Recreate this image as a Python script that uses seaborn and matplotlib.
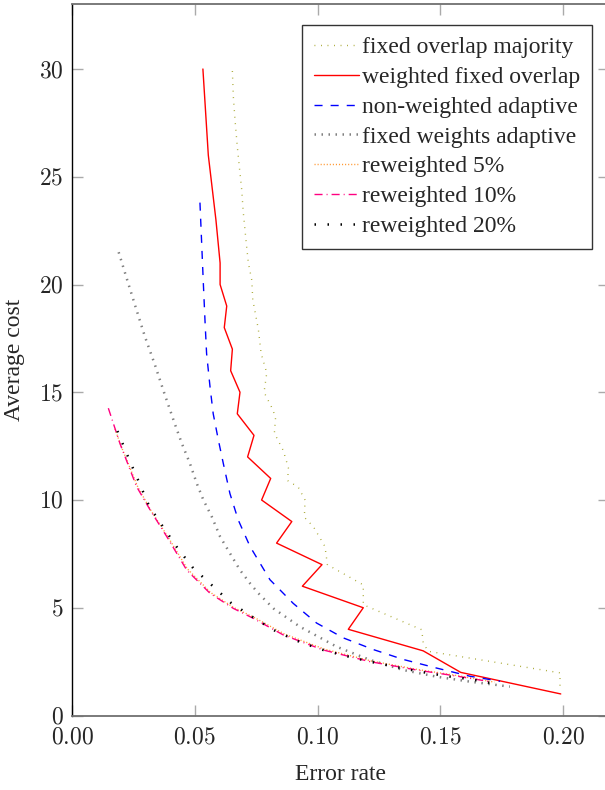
import matplotlib
matplotlib.use("Agg")
import matplotlib.pyplot as plt
import seaborn as sns
import pandas as pd

# ---------------- data ----------------
fixed_overlap_x = [0.0653, 0.0657, 0.0664, 0.0673, 0.0681, 0.0691, 0.0697, 0.0708, 0.0718, 0.0732,
                   0.0736, 0.0759, 0.0770, 0.0793, 0.0782, 0.0813, 0.0829, 0.0824, 0.0860, 0.0881,
                   0.0878, 0.0921, 0.0949, 0.0946, 0.0983, 0.1030, 0.1040, 0.1186, 0.1186, 0.1424,
                   0.1430, 0.1450, 0.1987, 0.1987]
fixed_overlap_y = [29.9, 28.7, 27.6, 26.4, 25.5, 24.4, 23.4, 22.1, 21.0, 20.2,
                   19.3, 17.9, 16.8, 15.9, 15.0, 14.3, 13.85, 13.1, 12.3, 11.5,
                   10.9, 10.6, 10.0, 9.2, 8.76, 7.84, 7.0, 6.06, 5.14, 3.98,
                   3.37, 2.98, 1.98, 1.36]

weighted_x = [0.0533, 0.0555, 0.0586, 0.0603, 0.0603, 0.0630, 0.0620, 0.0653, 0.0646, 0.0684,
              0.0673, 0.0741, 0.0715, 0.0809, 0.0772, 0.0895, 0.0833, 0.1018, 0.0938, 0.1186,
              0.1125, 0.1430, 0.1583, 0.1990]
weighted_y = [30, 26, 23, 21, 20, 19, 18, 17, 16, 15, 14, 13, 12, 11, 10, 9, 8, 7, 6, 5, 4, 3, 2, 1]

nonweighted_x = [0.0521, 0.0535, 0.0542, 0.0548, 0.0562, 0.0575, 0.0596, 0.0616, 0.0643, 0.0677,
                 0.0725, 0.0806, 0.0901, 0.0996, 0.1105, 0.1227, 0.1349, 0.1485, 0.1621, 0.1743]
nonweighted_y = [23.8, 20.0, 18.2, 16.8, 15.25, 14.0, 12.78, 11.7, 10.3, 9.07,
                 7.84, 6.3, 5.2, 4.29, 3.6, 3.06, 2.6, 2.2, 1.82, 1.59]

fixedw_x = [0.0190, 0.0225, 0.0261, 0.0297, 0.0338, 0.0376, 0.0415, 0.0447, 0.0480, 0.0508,
            0.0535, 0.0569, 0.0603, 0.0643, 0.0684, 0.0725, 0.0759, 0.0820, 0.0928, 0.1078,
            0.1213, 0.1349, 0.1485, 0.1621, 0.1783]
fixedw_y = [21.5, 20.2, 18.88, 17.58, 16.26, 14.95, 13.65, 12.63, 11.7, 10.77,
            10.0, 9.23, 8.3, 7.53, 6.75, 6.13, 5.67, 4.97, 4.12, 3.19,
            2.58, 2.11, 1.80, 1.57, 1.34]

rw5_x = [0.0175, 0.0200, 0.0268, 0.0322, 0.0390, 0.0470, 0.0565, 0.0660, 0.0742, 0.0865,
         0.1028, 0.1218, 0.1410, 0.1570, 0.1720]
rw5_y = [13.3, 12.5, 10.6, 9.5, 8.3, 6.8, 5.7, 5.0, 4.55, 3.78,
         3.08, 2.53, 2.13, 1.85, 1.55]

rw10_x = [0.0148, 0.0195, 0.0263, 0.0318, 0.0386, 0.0467, 0.0562, 0.0657, 0.0738, 0.0860,
          0.1023, 0.1213, 0.1404, 0.1566, 0.1702]
rw10_y = [14.26, 12.63, 10.62, 9.54, 8.3, 6.75, 5.67, 4.97, 4.51, 3.74,
          3.04, 2.50, 2.11, 1.83, 1.57]

rw20_x = [0.0185, 0.0232, 0.0273, 0.0314, 0.0372, 0.0430, 0.0494, 0.0570, 0.0647, 0.0734,
          0.0820, 0.0915, 0.1013, 0.1116, 0.1213, 0.1315, 0.1420, 0.1522, 0.1625, 0.1726]
rw20_y = [13.2, 11.9, 10.82, 9.72, 8.73, 7.76, 6.83, 6.04, 5.23, 4.58,
          3.97, 3.47, 3.07, 2.76, 2.50, 2.26, 2.03, 1.83, 1.68, 1.46]

x_ticks = [0.00, 0.05, 0.10, 0.15, 0.20]
x_tick_labels = ["0.00", "0.05", "0.10", "0.15", "0.20"]
y_ticks = [0, 5, 10, 15, 20, 25, 30]
y_tick_labels = ["0", "5", "10", "15", "20", "25", "30"]

# ---------------- style ----------------
sns.set_theme(style="white")
plt.rcParams["font.family"] = ["Liberation Serif", "DejaVu Serif"]
plt.rcParams["mathtext.fontset"] = "cm"
FS = 17

fig = plt.figure(figsize=(6.05, 7.90), dpi=100)
ax = fig.add_axes([72 / 605, (790 - 715.5) / 790, (609 - 72) / 605, (715.5 - 4) / 790])

series = [
    ("fixed overlap majority", fixed_overlap_x, fixed_overlap_y, dict(color="#a0a020", lw=1.0, ls=(0, (0.6, 4.1)))),
    ("weighted fixed overlap", weighted_x, weighted_y, dict(color="red", lw=1.0, ls="-")),
    ("non-weighted adaptive", nonweighted_x, nonweighted_y, dict(color="blue", lw=1.0, ls=(0, (5.8, 5.8)))),
    ("fixed weights adaptive", fixedw_x, fixedw_y, dict(color="gray", lw=1.8, ls=(0, (0.6, 2.2)))),
    ("reweighted 5%", rw5_x, rw5_y, dict(color="#ff9933", lw=1.0, ls=(0, (0.8, 1.4)))),
    ("reweighted 10%", rw10_x, rw10_y, dict(color="#ff0080", lw=1.0, ls=(0, (5.8, 2.9, 0.7, 2.9)))),
    ("reweighted 20%", rw20_x, rw20_y, dict(color="black", lw=1.8, ls=(0, (0.6, 4.6)))),
]

for name, xs, ys, st in series:
    df = pd.DataFrame({"x": xs, "y": ys})
    sns.lineplot(data=df, x="x", y="y", sort=False, estimator=None, ax=ax,
                 label=name, color=st["color"], linewidth=st["lw"], linestyle=st["ls"])

ax.set_xlim(0, (609 - 72) / 2456)
ax.set_ylim(0, (715.5 - 4) / 21.55)

ax.set_xticks(x_ticks)
ax.set_xticklabels(["$" + t + "$" for t in x_tick_labels], fontsize=FS)
ax.set_yticks(y_ticks)
ax.set_yticklabels(["$" + t + "$" for t in y_tick_labels], fontsize=FS)

ax.tick_params(axis="both", direction="in", length=8, width=1, color="#aaaaaa",
               top=True, right=True, bottom=True, left=True)
ax.tick_params(axis="x", pad=9)
ax.tick_params(axis="y", pad=6)

for s in ["top", "bottom", "right"]:
    ax.spines[s].set_color("#707070")
    ax.spines[s].set_linewidth(1.3)
ax.spines["left"].set_color("black")
ax.spines["left"].set_linewidth(1.0)

ax.set_xlabel("Error rate", fontsize=FS, labelpad=11)
ax.set_ylabel("Average cost", fontsize=FS, labelpad=10)

leg = ax.legend(loc="upper right", bbox_to_anchor=(0.969, 0.9705), borderaxespad=0,
                fontsize=FS, frameon=True, fancybox=False, edgecolor="black",
                handlelength=1.9, handletextpad=0.15, labelspacing=0.35, borderpad=0.5)
leg.get_frame().set_linewidth(1.0)

fig.savefig("out.png", dpi=100)
